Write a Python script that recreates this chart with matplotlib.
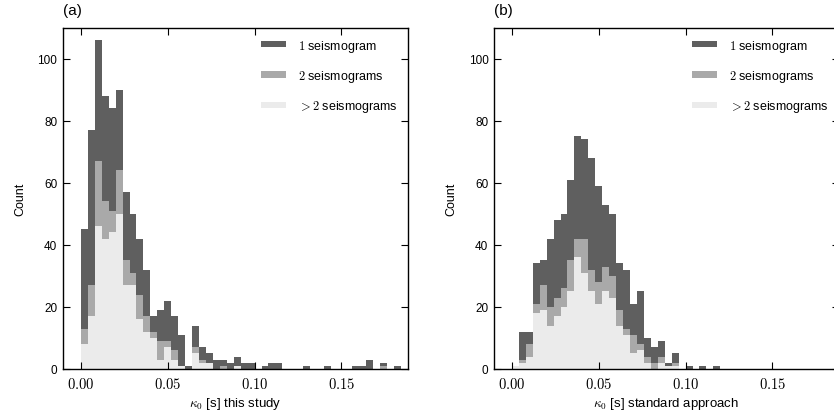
import matplotlib
matplotlib.use("Agg")
import matplotlib.pyplot as plt
import numpy as np
from matplotlib.ticker import FuncFormatter

plt.rcParams['font.family'] = ['Liberation Sans', 'DejaVu Sans']
plt.rcParams['mathtext.fontset'] = 'cm'

bin_width = 0.004
n_bins = 46
edges = np.arange(n_bins) * bin_width

# counts per bin (kappa_0 from 0.000 in steps of 0.004)
# panel (a): this study
a_one = [32, 50, 39, 34, 33, 26, 22, 19, 18, 15, 5, 10, 13, 11, 10, 1, 7, 4, 3, 3, 2, 2, 3, 2,
         2, 0, 1, 2, 2, 0, 0, 0, 1, 0, 0, 1, 0, 0, 0, 1, 1, 3, 0, 1, 0, 1]
a_two = [5, 10, 21, 12, 7, 14, 8, 4, 8, 5, 2, 6, 2, 3, 0, 0, 2, 1, 0, 0, 1, 0, 0, 0,
         0, 0, 0, 0, 0, 0, 0, 0, 0, 0, 0, 0, 0, 0, 0, 0, 0, 0, 0, 1, 0, 0]
a_many = [8, 17, 46, 42, 44, 50, 27, 27, 16, 12, 10, 3, 7, 3, 1, 0, 5, 2, 2, 0, 0, 0, 1, 0,
          0, 0, 0, 0, 0, 0, 0, 0, 0, 0, 0, 0, 0, 0, 0, 0, 0, 0, 0, 0, 0, 0]

# panel (b): standard approach
b_one = [0, 9, 4, 13, 8, 22, 25, 24, 26, 33, 32, 36, 31, 20, 20, 15, 19, 10, 17, 6, 5, 5, 1, 3,
         0, 1, 0, 1, 0, 1] + [0] * 16
b_two = [0, 1, 4, 3, 8, 6, 6, 6, 10, 6, 11, 7, 7, 8, 7, 5, 2, 6, 2, 2, 2, 2, 0, 1,
         0, 0, 0, 0, 0, 0] + [0] * 16
b_many = [1, 2, 4, 18, 19, 14, 17, 20, 25, 36, 31, 25, 21, 25, 23, 14, 11, 5, 6, 2, 0, 2, 1, 1,
          0, 0, 0, 0, 0, 0] + [0] * 16

labels = [r'$1$ seismogram', r'$2$ seismograms', r'$>2$ seismograms']
colors = ['#5f5f5f', '#a9a9a9', '#ebebeb']
panels = ['(a)', '(b)']
xlabels = [r'$\kappa_0$ [s] this study', r'$\kappa_0$ [s] standard approach']

fig = plt.figure(figsize=(8.34, 4.14), dpi=100)
ax_a = fig.add_axes([0.0755, 0.1063, 0.4137, 0.8244])
ax_b = fig.add_axes([0.5923, 0.1063, 0.4137, 0.8244])

data = [(a_one, a_two, a_many), (b_one, b_two, b_many)]
for ax, (one, two, many), tag, xl in zip([ax_a, ax_b], data, panels, xlabels):
    one = np.array(one)
    two = np.array(two)
    many = np.array(many)
    h3 = ax.bar(edges, many, width=bin_width, align='edge', color=colors[2], linewidth=0)
    h2 = ax.bar(edges, two, width=bin_width, align='edge', bottom=many, color=colors[1], linewidth=0)
    h1 = ax.bar(edges, one, width=bin_width, align='edge', bottom=many + two, color=colors[0], linewidth=0)
    ax.set_xlim(-0.0103, 0.1883)
    ax.set_ylim(0, 110)
    ax.set_xticks([0.0, 0.05, 0.10, 0.15])
    ax.set_yticks([0, 20, 40, 60, 80, 100])
    ax.xaxis.set_major_formatter(FuncFormatter(lambda v, p: '$%.2f$' % v))
    ax.tick_params(direction='in', top=True, right=True, length=5, width=0.8)
    ax.tick_params(axis='x', labelsize=10.5, pad=5)
    ax.tick_params(axis='y', labelsize=8.5, pad=4)
    for s in ax.spines.values():
        s.set_linewidth(1.0)
    ax.set_xlabel(xl, fontsize=9.5, labelpad=3)
    ax.set_ylabel('Count', fontsize=9, labelpad=8)
    ax.text(0.0, 1.03, tag, transform=ax.transAxes, fontsize=11, ha='left', va='bottom')
    ax.legend([h1, h2, h3], labels, loc='upper right', frameon=False, fontsize=9,
              handlelength=2.0, handleheight=0.4, labelspacing=1.15, handletextpad=1.0,
              borderaxespad=0.4)

fig.savefig('out.png', dpi=100)
